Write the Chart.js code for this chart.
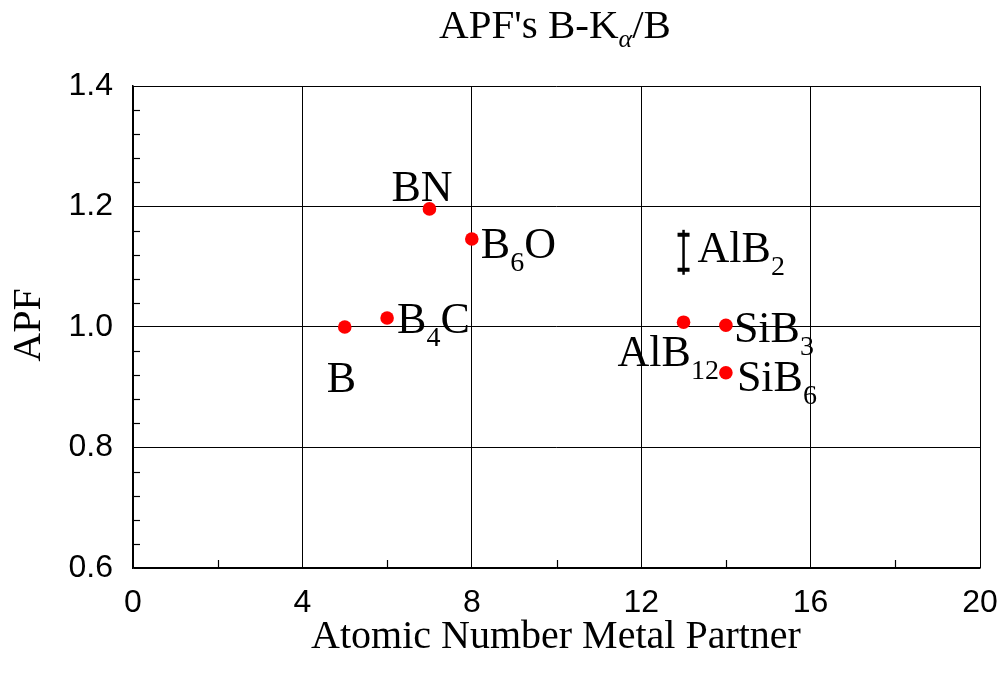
<!DOCTYPE html>
<html>
<head>
<meta charset="utf-8">
<script src="https://cdn.jsdelivr.net/npm/chart.js@4.4.1/dist/chart.umd.min.js"></script>
<style>
  html, body { margin: 0; padding: 0; background: #fff; }
  canvas { display: block; }
</style>
</head>
<body>
<canvas id="c" width="1003" height="676"></canvas>
<script>
// ---- data ----
const compoundNames = ['B', 'B4C', 'BN', 'B6O', 'AlB12', 'SiB3', 'SiB6'];
const atomicNumbers = [5, 6, 7, 8, 13, 14, 14];
const apfValues = [1.000, 1.015, 1.196, 1.146, 1.008, 1.003, 0.924];
const rangeName = 'AlB2';
const rangeX = [13];
const rangeLow = [1.095];
const rangeHigh = [1.153];
const xTickValues = [0, 4, 8, 12, 16, 20];
const yTickValues = [0.6, 0.8, 1.0, 1.2, 1.4];
const titleParts = ["APF's B-K", 'α', '/B'];
const xTitle = 'Atomic Number Metal Partner';
const yTitle = 'APF';

// ---- label placement (pixel offsets from the mark: left edge, baseline) ----
const labelOffsets = [[-18, 65], [10, 15], [-38, -8], [9, 19], [-66, 44], [8, 17], [11, 18]];
const rangeLabelOffset = [14, 10];

const SERIF = '"Liberation Serif", "Times New Roman", serif';
const SANS = '"Liberation Sans", Arial, sans-serif';

function drawRich(ctx, text, x, y, big, small, drop) {
  const runs = text.match(/\d+|\D+/g);
  let cx = x;
  ctx.textAlign = 'left';
  ctx.textBaseline = 'alphabetic';
  for (const r of runs) {
    const isSub = /^\d+$/.test(r);
    ctx.font = (isSub ? small : big) + 'px ' + SERIF;
    ctx.fillText(r, cx, isSub ? y + drop : y);
    cx += ctx.measureText(r).width;
  }
}

const overlay = {
  id: 'overlay',
  afterDraw(chart) {
    const ctx = chart.ctx;
    const xs = chart.scales.x, ys = chart.scales.y;
    const area = chart.chartArea;
    ctx.save();
    ctx.fillStyle = '#000';
    ctx.strokeStyle = '#000';

    // minor ticks
    ctx.lineWidth = 1.2;
    for (let k = 0; k <= 20; k++) {
      if (k % 5 === 0) continue;
      const v = 0.6 + k * 0.04;
      const py = Math.round(ys.getPixelForValue(v)) + 0.5;
      ctx.beginPath(); ctx.moveTo(area.left, py); ctx.lineTo(area.left + 7, py); ctx.stroke();
    }
    for (let v = 2; v < 20; v += 4) {
      const px = Math.round(xs.getPixelForValue(v)) + 0.5;
      ctx.beginPath(); ctx.moveTo(px, area.bottom); ctx.lineTo(px, area.bottom - 8); ctx.stroke();
    }

    // range bar (AlB2)
    for (let i = 0; i < rangeX.length; i++) {
      const px = xs.getPixelForValue(rangeX[i]);
      const yHi = ys.getPixelForValue(rangeHigh[i]);
      const yLo = ys.getPixelForValue(rangeLow[i]);
      ctx.lineWidth = 2.5;
      ctx.beginPath(); ctx.moveTo(px, yHi - 5); ctx.lineTo(px, yLo + 5); ctx.stroke();
      ctx.lineWidth = 4;
      ctx.beginPath();
      ctx.moveTo(px - 6, yHi); ctx.lineTo(px + 6, yHi);
      ctx.moveTo(px - 6, yLo); ctx.lineTo(px + 6, yLo);
      ctx.stroke();
      const yc = (yHi + yLo) / 2;
      drawRich(ctx, rangeName, px + rangeLabelOffset[0], yc + rangeLabelOffset[1], 44, 28, 13);
    }

    // point labels
    for (let i = 0; i < compoundNames.length; i++) {
      const px = xs.getPixelForValue(atomicNumbers[i]);
      const py = ys.getPixelForValue(apfValues[i]);
      drawRich(ctx, compoundNames[i], px + labelOffsets[i][0], py + labelOffsets[i][1], 44, 28, 13);
    }

    // title
    ctx.textBaseline = 'alphabetic';
    ctx.textAlign = 'left';
    ctx.font = '41px ' + SERIF;
    const w1 = ctx.measureText(titleParts[0]).width;
    const w3 = ctx.measureText(titleParts[2]).width;
    ctx.font = 'italic 26px ' + SERIF;
    const w2 = ctx.measureText(titleParts[1]).width;
    let tx = 555 - (w1 + w2 + w3) / 2;
    const tb = 38;
    ctx.font = '41px ' + SERIF;
    ctx.fillText(titleParts[0], tx, tb); tx += w1;
    ctx.font = 'italic 26px ' + SERIF;
    ctx.fillText(titleParts[1], tx, tb + 9); tx += w2;
    ctx.font = '41px ' + SERIF;
    ctx.fillText(titleParts[2], tx, tb);

    // axis titles
    ctx.font = '40px ' + SERIF;
    ctx.textAlign = 'center';
    ctx.fillText(xTitle, 556, 648);
    ctx.save();
    ctx.translate(40, 325);
    ctx.rotate(-Math.PI / 2);
    ctx.fillText(yTitle, 0, 0);
    ctx.restore();

    ctx.restore();
  }
};

new Chart(document.getElementById('c'), {
  type: 'scatter',
  data: {
    datasets: [{
      data: atomicNumbers.map((x, i) => ({ x: x, y: apfValues[i] })),
      backgroundColor: '#ff0000',
      borderColor: '#ff0000',
      pointRadius: 6.8,
      pointHoverRadius: 6.8,
      borderWidth: 0
    }]
  },
  options: {
    responsive: false,
    animation: false,
    events: [],
    layout: { padding: { top: 86, right: 23, left: 0, bottom: 0 } },
    plugins: { legend: { display: false }, tooltip: { enabled: false }, title: { display: false } },
    scales: {
      x: {
        type: 'linear',
        min: 0, max: 20,
        afterBuildTicks: (s) => { s.ticks = xTickValues.map(v => ({ value: v })); },
        afterFit: (s) => { s.height = 676 - 568; s.paddingLeft = 0; s.paddingRight = 0; },
        ticks: {
          color: '#000',
          font: { family: SANS, size: 32 },
          padding: 16,
          maxRotation: 0,
          callback: (v) => String(v)
        },
        grid: { color: '#000', lineWidth: 1, drawTicks: false },
        border: { display: true, color: '#000', width: 1.5 }
      },
      y: {
        type: 'linear',
        min: 0.6, max: 1.4,
        afterBuildTicks: (s) => { s.ticks = yTickValues.map(v => ({ value: v })); },
        afterFit: (s) => { s.width = 133; s.paddingTop = 0; s.paddingBottom = 0; },
        ticks: {
          color: '#000',
          font: { family: SANS, size: 32 },
          padding: 20,
          callback: (v) => Number(v).toFixed(1)
        },
        grid: { color: '#000', lineWidth: 1, drawTicks: false },
        border: { display: true, color: '#000', width: 1.5 }
      }
    }
  },
  plugins: [overlay]
});
</script>
</body>
</html>
